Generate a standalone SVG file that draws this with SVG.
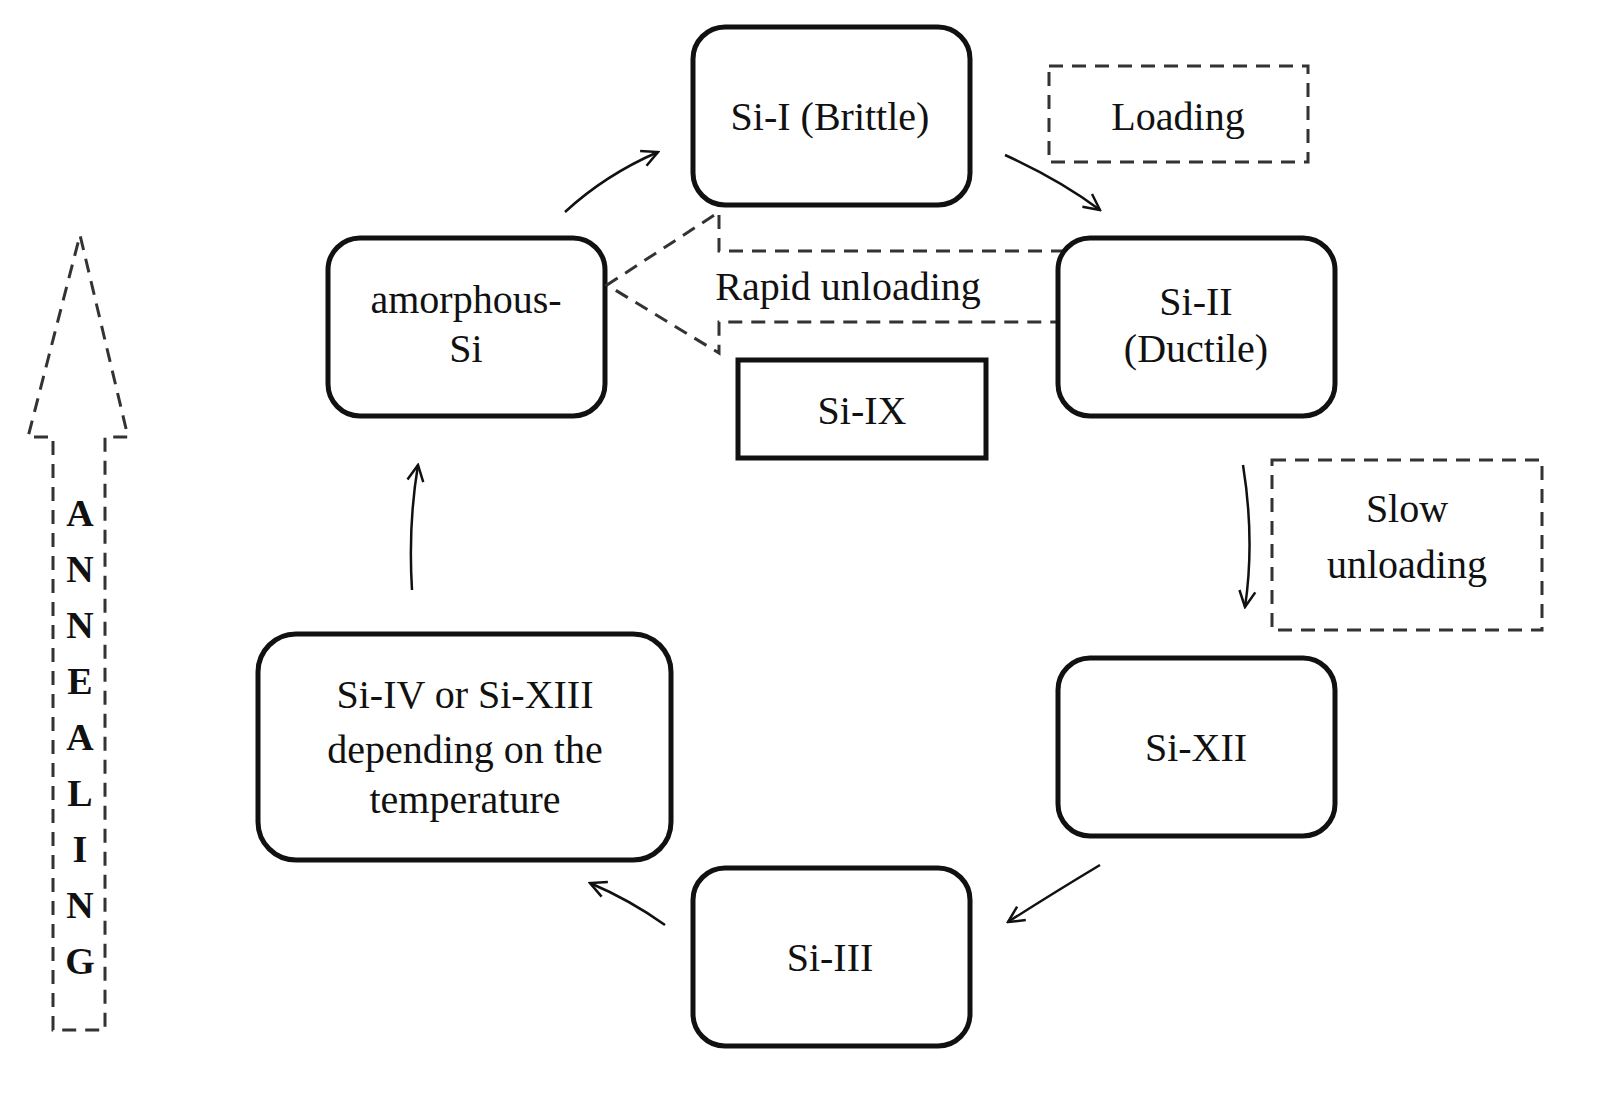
<svg xmlns="http://www.w3.org/2000/svg" width="1598" height="1106" viewBox="0 0 1598 1106">
<style>
.n{fill:#fff;stroke:#111;stroke-width:5}
.d{fill:none;stroke:#333;stroke-width:3;stroke-dasharray:14 9}
.t{font-family:"Liberation Serif",serif;font-size:40px;fill:#111;text-anchor:middle}
.a{fill:none;stroke:#111;stroke-width:2.5;marker-end:url(#h)}
.b{font-family:"Liberation Serif",serif;font-size:38px;font-weight:bold;fill:#111;text-anchor:middle}
</style>
<defs><marker id="h" viewBox="0 0 20 20" refX="18" refY="10" markerWidth="20" markerHeight="20" markerUnits="userSpaceOnUse" orient="auto"><path d="M2,2 L18,10 L2,18" fill="none" stroke="#111" stroke-width="2.5"/></marker></defs>
<rect width="1598" height="1106" fill="#fff"/>
<g id="connectors">
<path class="a" d="M565,212 Q605,175 658,152"/>
<path class="a" d="M1005,155 Q1060,180 1100,210"/>
<path class="a" d="M1243,465 Q1255,540 1245,607"/>
<path class="a" d="M1100,865 Q1050,895 1008,922"/>
<path class="a" d="M665,925 Q630,900 590,883"/>
<path class="a" d="M412,590 Q408,525 418,465"/>
</g>
<g id="si1"><rect class="n" x="693" y="27" width="277" height="178" rx="32"/><text class="t" x="830" y="130">Si-I (Brittle)</text></g>
<g id="loading"><rect class="d" x="1049" y="66" width="259" height="96"/><text class="t" x="1178" y="130">Loading</text></g>
<g id="amorph"><rect class="n" x="328" y="238" width="277" height="178" rx="32"/><text class="t" x="466" y="313">amorphous-</text><text class="t" x="466" y="362">Si</text></g>
<g id="rapid"><path class="d" d="M1065,251 L719,251 L719,212 L607,285 L719,353 L719,322 L1065,322"/><text class="t" x="848" y="300">Rapid unloading</text></g>
<g id="si2"><rect class="n" x="1058" y="238" width="277" height="178" rx="32"/><text class="t" x="1196" y="315">Si-II</text><text class="t" x="1196" y="362">(Ductile)</text></g>
<g id="si9"><rect class="n" x="738" y="360" width="248" height="98" fill="#fff"/><text class="t" x="862" y="424">Si-IX</text></g>
<g id="slow"><rect class="d" x="1272" y="460" width="270" height="170"/><text class="t" x="1407" y="522">Slow</text><text class="t" x="1407" y="578">unloading</text></g>
<g id="si12"><rect class="n" x="1058" y="658" width="277" height="178" rx="32"/><text class="t" x="1196" y="761">Si-XII</text></g>
<g id="si3"><rect class="n" x="693" y="868" width="277" height="178" rx="32"/><text class="t" x="830" y="971">Si-III</text></g>
<g id="si4"><rect class="n" x="258" y="634" width="413" height="226" rx="38"/><text class="t" x="465" y="708">Si-IV or Si-XIII</text><text class="t" x="465" y="763">depending on the</text><text class="t" x="465" y="813">temperature</text></g>
<g id="annealing"><path class="d" d="M53,1030 L53,437 L28,437 L80,235 L128,437 L105,437 L105,1030 Z"/>
<text class="b" x="80" y="526">A</text><text class="b" x="80" y="582">N</text><text class="b" x="80" y="638">N</text><text class="b" x="80" y="694">E</text><text class="b" x="80" y="750">A</text><text class="b" x="80" y="806">L</text><text class="b" x="80" y="862">I</text><text class="b" x="80" y="918">N</text><text class="b" x="80" y="974">G</text></g>
</svg>
